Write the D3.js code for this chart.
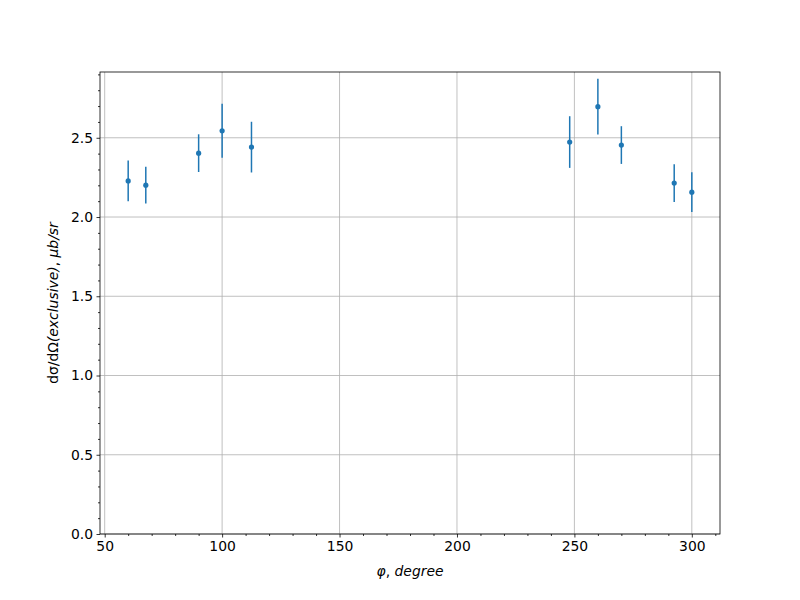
<!DOCTYPE html>
<html><head><meta charset="utf-8">
<script src="https://cdn.jsdelivr.net/npm/d3@7"></script>
<style>body{margin:0;background:#fff}svg{display:block}text{font-family:"DejaVu Sans",sans-serif}</style>
</head><body><svg id="c" width="800" height="600"></svg>
<script>
const phi = [60, 67.5, 90, 100, 112.5, 248, 260, 270, 292.5, 300];
const xsec = [2.228, 2.201, 2.403, 2.544, 2.441, 2.473, 2.696, 2.454, 2.214, 2.157];
const err = [0.128, 0.116, 0.119, 0.17, 0.16, 0.163, 0.176, 0.119, 0.119, 0.125];
const xTicks = [50, 100, 150, 200, 250, 300];
const yTicks = [0, 0.5, 1.0, 1.5, 2.0, 2.5];

const svg = d3.select("#c");
const L = 100, R = 720, T = 72, B = 534;
const x = d3.scaleLinear().domain([48, 312]).range([L, R]);
const y = d3.scaleLinear().domain([0, 2.915]).range([B, T]);
const fs = "13.9px";

// grid
const g = svg.append("g");
g.selectAll(".gx").data(xTicks).enter().append("line")
  .attr("x1", d => x(d)).attr("x2", d => x(d)).attr("y1", T).attr("y2", B)
  .attr("stroke", "#b0b0b0").attr("stroke-width", 0.8);
g.selectAll(".gy").data(yTicks).enter().append("line")
  .attr("y1", d => y(d)).attr("y2", d => y(d)).attr("x1", L).attr("x2", R)
  .attr("stroke", "#b0b0b0").attr("stroke-width", 0.8);

// data
const dg = svg.append("g");
phi.forEach((p, i) => {
  dg.append("line").attr("x1", x(p)).attr("x2", x(p))
    .attr("y1", y(xsec[i] - err[i])).attr("y2", y(xsec[i] + err[i]))
    .attr("stroke", "#1f77b4").attr("stroke-width", 1.5);
  dg.append("circle").attr("cx", x(p)).attr("cy", y(xsec[i])).attr("r", 2.6)
    .attr("fill", "#1f77b4");
});

// axes
const xAxis = d3.axisBottom(x).tickValues(xTicks).tickFormat(d3.format("d")).tickSize(3.5).tickPadding(3.5);
const xMinor = d3.axisBottom(x).tickValues(d3.range(50, 312, 10).filter(v => v % 50 !== 0)).tickSize(2).tickFormat("");
const yAxis = d3.axisLeft(y).tickValues(yTicks).tickFormat(d3.format(".1f")).tickSize(3.5).tickPadding(3.5);
const yMinor = d3.axisLeft(y).tickValues(d3.range(1, 30).map(v => v / 10).filter((v, i) => (i + 1) % 5 !== 0 && v <= 2.915)).tickSize(2).tickFormat("");

function style(sel) {
  sel.select(".domain").remove();
  sel.selectAll("line").attr("stroke", "#000").attr("stroke-width", 0.8);
  sel.selectAll("text").attr("font-size", fs).attr("fill", "#000").attr("font-family", "DejaVu Sans");
}
svg.append("g").attr("transform", `translate(0,${B})`).call(xAxis).call(style);
svg.append("g").attr("transform", `translate(0,${B})`).call(xMinor).call(style);
svg.append("g").attr("transform", `translate(${L},0)`).call(yAxis).call(style);
svg.append("g").attr("transform", `translate(${L},0)`).call(yMinor).call(style);

// frame
svg.append("rect").attr("x", L).attr("y", T).attr("width", R - L).attr("height", B - T)
  .attr("fill", "none").attr("stroke", "#000").attr("stroke-width", 0.8);

// labels
const xl = svg.append("text").attr("x", (L + R) / 2).attr("y", 576).attr("text-anchor", "middle")
  .attr("font-size", fs).attr("font-style", "italic");
xl.append("tspan").text("φ");
xl.append("tspan").attr("font-style", "normal").text(", ");
xl.append("tspan").text("degree");

const yl = svg.append("text").attr("transform", `translate(58,${(T + B) / 2}) rotate(-90)`)
  .attr("text-anchor", "middle").attr("font-size", fs);
yl.append("tspan").text("dσ/dΩ");
yl.append("tspan").attr("font-style", "italic").text("(exclusive)");
yl.append("tspan").text(", ");
yl.append("tspan").attr("font-style", "italic").text("μb/sr");
</script></body></html>
